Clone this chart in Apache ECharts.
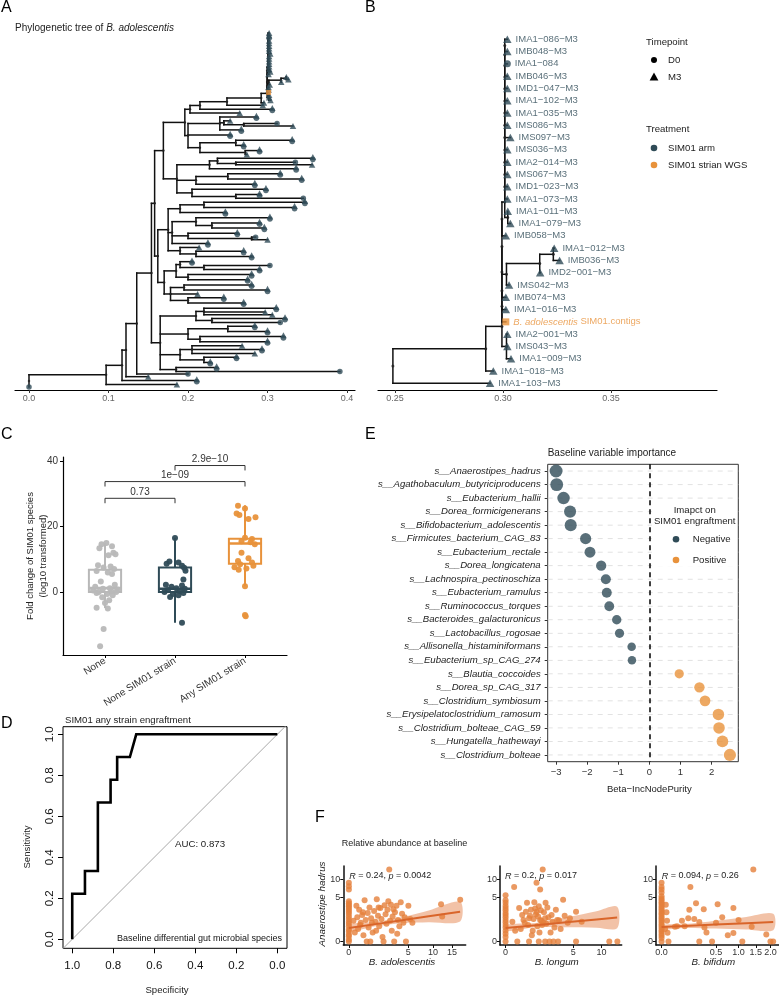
<!DOCTYPE html>
<html><head><meta charset="utf-8">
<script src="https://cdn.jsdelivr.net/npm/echarts@6/dist/echarts.min.js"></script>
<style>html,body{margin:0;padding:0;background:#fff}#c{width:779px;height:996px}</style>
</head><body><div id="c"></div>
<script>
const FONT = '"Liberation Sans", Arial, sans-serif';
const SLATE = '#2F4B57', ORANGE = '#E8923B', GREY = '#B8B8B8';
const F_ORANGE = '#E5803B', F_LINE = '#D9652A';

// ---------- Panel A/B: phylogenetic tree (node depth in substitutions/site) ----------
const N = (d, ...kids) => [d, kids];
const L = (d, type, name) => [d, type, name];   // type: c = D0 circle, t = M3 triangle, p = D0+M3 pair, o = SIM01 strain WGS
// ladder: (((a,b),c),d)... all internal nodes at depth d
const ladder = (d, ...items) => items.slice(1).reduce((acc, it) => [d, [acc, it]], items[0]);

const cladeB = N(0.249,
  N(0.292,
    ladder(0.2995,
      ladder(0.3008,
        L(0.3020,'t','IMA1-086-M3'), L(0.3020,'t','IMB048-M3'), L(0.3020,'c','IMA1-084'),
        L(0.3020,'t','IMB046-M3'), L(0.3020,'t','IMD1-047-M3'), L(0.3020,'t','IMA1-102-M3'),
        L(0.3020,'t','IMA1-035-M3'), L(0.3020,'t','IMS086-M3'), L(0.3034,'t','IMS097-M3'),
        L(0.3020,'t','IMS036-M3'), L(0.3020,'t','IMA2-014-M3'), L(0.3020,'t','IMS067-M3'),
        L(0.3020,'t','IMD1-023-M3'), L(0.3020,'t','IMA1-073-M3'),
        N(0.3022, L(0.3022,'t','IMA1-011-M3'), L(0.3034,'t','IMA1-079-M3'))
      ),
      L(0.3013,'t','IMB058-M3'),
      N(0.3016,
        N(0.3170,
          N(0.3233, L(0.3237,'t','IMA1-012-M3'), L(0.3262,'t','IMB036-M3')),
          L(0.3172,'t','IMD2-001-M3')
        ),
        L(0.3028,'t','IMS042-M3')
      ),
      L(0.3013,'t','IMB074-M3'),
      L(0.3013,'t','IMA1-016-M3'),
      L(0.3013,'o','B. adolescentis SIM01.contigs'),
      N(0.3016, L(0.3020,'t','IMA2-001-M3'), L(0.3020,'t','IMS043-M3'), L(0.3037,'t','IMA1-009-M3'))
    ),
    L(0.2955,'t','IMA1-018-M3')
  ),
  L(0.2940,'t','IMA1-103-M3')
);

const upperA = N(0.158,
  N(0.169,
    N(0.196,
      N(0.2025, N(0.215, cladeB, L(0.306,'p')), L(0.265,'t')),
      N(0.20,
        N(0.24, L(0.286,'p'), N(0.245, L(0.253,'t'), N(0.27, L(0.312,'c'), L(0.332,'t'))), L(0.267,'p')),
        L(0.253,'p'),
        N(0.215, N(0.26, L(0.331,'p'), L(0.27,'p')), N(0.272, L(0.29,'p'), L(0.274,'t')))
      )
    ),
    N(0.186,
      N(0.227, N(0.237, L(0.357,'p'), N(0.26, L(0.335,'c'), L(0.356,'t'))), L(0.336,'p')),
      N(0.21, N(0.25, L(0.316,'p'), L(0.343,'p')), L(0.284,'p')),
      N(0.205, L(0.298,'p'), N(0.26, L(0.29,'p'), L(0.345,'c')))
    )
  ),
  N(0.162,
    N(0.175,
      N(0.19, N(0.22, L(0.347,'p'), L(0.334,'p')), L(0.247,'p')),
      N(0.18,
        N(0.21, L(0.303,'p'), N(0.23, L(0.29,'p'), L(0.296,'p'))),
        N(0.2, L(0.262,'p'), N(0.28, L(0.285,'c'), L(0.30,'t'))),
        L(0.225,'p')
      ),
      N(0.19, L(0.214,'t'), N(0.21, L(0.27,'p'), L(0.28,'p')))
    ),
    N(0.17,
      N(0.185, N(0.19, L(0.205,'p'), N(0.22, L(0.303,'c'), L(0.29,'p'))), N(0.2, L(0.28,'p'), L(0.275,'p'))),
      N(0.178, N(0.195, L(0.28,'p'), L(0.3,'p')), L(0.212,'t'), N(0.2, L(0.245,'p'), L(0.27,'p')))
    )
  )
);

const lowerA = N(0.165,
  N(0.21, N(0.22, L(0.311,'p'), L(0.297,'t'), L(0.306,'t')), N(0.23, L(0.322,'p'), L(0.316,'c'))),
  N(0.2, N(0.25, L(0.284,'p'), L(0.30,'p')), N(0.215, L(0.32,'p'), L(0.30,'p'))),
  N(0.19, N(0.205, L(0.268,'t'), L(0.293,'p'), L(0.284,'t')), N(0.22, L(0.261,'p'), L(0.228,'p'))),
  N(0.185, L(0.236,'p'), L(0.391,'c'))
);

const treeA = N(0,
  N(0.097,
    N(0.117,
      N(0.122,
        N(0.1355, N(0.154, upperA, lowerA), L(0.200,'c')),
        L(0.150,'t')
      ),
      L(0.211,'p')
    ),
    L(0.186,'t')
  ),
  L(0,'c')
);
const aTicks = [0, 0.1, 0.2, 0.3, 0.4];
const bTicks = [0.25, 0.30, 0.35];

// ---------- Panel C ----------
const cCategories = ['None', 'None SIM01 strain', 'Any SIM01 strain'];
const cBoxLow  = [-4.9, -9.4, 1.8];
const cBoxQ1   = [0, 0, 8.6];
const cBoxMed  = [1.2, 1.0, 14.8];
const cBoxQ3   = [6.8, 7.5, 16.3];
const cBoxHigh = [15, 16.6, 26.5];
const cNone = [15, 14.6, 14, 13.4, 12, 11.5, 11.2, 8.2, 7.8, 7.5, 7.0, 6.4, 6.0, 5.5, 3.2, 2.2, 1.6, 1.2, 1.0, 0.8, 0.5, 0.2, 0, 0, -0.3, -0.6, -1.0, -1.6, -2.5, -3.3, -4.8, -5.0, -11.3, -16.5];
const cNoneJit = [0.02, -0.05, 0.1, -0.08, 0.12, 0.15, 0.05, -0.1, 0.08, -0.02, 0.13, -0.12, 0.04, 0.1, -0.06, 0.14, -0.14, 0.07, -0.03, 0.18, -0.17, 0.09, -0.09, 0.16, -0.12, 0.03, 0.11, -0.04, 0.06, 0.0, -0.12, 0.04, -0.02, -0.07];
const cNoneSim = [16.5, 9.3, 9.0, 8.6, 8.0, 7.4, 6.5, 3.8, 2.2, 2.0, 1.6, 1.2, 1.0, 0.6, 0.3, 0, -0.3, -0.6, -1.0, -1.5, -9.4];
const cNoneSimJit = [0, -0.08, 0.05, -0.12, 0.1, 0.13, 0.15, 0.12, -0.13, 0.1, -0.05, 0.02, 0.14, -0.1, 0.07, -0.15, 0.12, -0.03, 0.05, -0.07, 0.1];
const cAny = [26.3, 25.5, 24.0, 23.5, 22.8, 22.3, 16.6, 16.2, 15.5, 15.2, 14.6, 12.0, 10.3, 9.5, 9.0, 8.5, 8.0, 7.6, 7.2, 6.8, 1.8, -7.0, -7.4];
const cAnyJit = [-0.1, 0.0, -0.12, -0.08, 0.15, 0.05, 0.0, 0.1, -0.05, 0.08, 0.14, -0.05, 0.05, -0.1, 0.1, -0.07, 0.12, -0.15, 0.02, -0.09, 0.0, 0.0, 0.01];
const cBrLeft = [1, 1, 2], cBrRight = [2, 3, 3], cBrY = [28.6, 33.7, 38.6];
const cBrLabel = ['0.73', '1e\u221209', '2.9e\u221210'];

// ---------- Panel D ----------
const rocSpec = [1, 1, 0.938, 0.938, 0.875, 0.875, 0.813, 0.813, 0.781, 0.781, 0.719, 0.688, 0];
const rocSens = [0, 0.222, 0.222, 0.333, 0.333, 0.667, 0.667, 0.778, 0.778, 0.889, 0.889, 1, 1];
const dTicks = [0, 0.2, 0.4, 0.6, 0.8, 1.0];

// ---------- Panel E ----------
const eSpecies = ['s__Anaerostipes_hadrus','s__Agathobaculum_butyriciproducens','s__Eubacterium_hallii','s__Dorea_formicigenerans','s__Bifidobacterium_adolescentis','s__Firmicutes_bacterium_CAG_83','s__Eubacterium_rectale','s__Dorea_longicatena','s__Lachnospira_pectinoschiza','s__Eubacterium_ramulus','s__Ruminococcus_torques','s__Bacteroides_galacturonicus','s__Lactobacillus_rogosae','s__Allisonella_histaminiformans','s__Eubacterium_sp_CAG_274','s__Blautia_coccoides','s__Dorea_sp_CAG_317','s__Clostridium_symbiosum','s__Erysipelatoclostridium_ramosum','s__Clostridium_bolteae_CAG_59','s__Hungatella_hathewayi','s__Clostridium_bolteae'];
const eBeta = [-3.0, -2.98, -2.76, -2.55, -2.53, -2.05, -1.91, -1.55, -1.40, -1.37, -1.29, -1.05, -0.96, -0.57, -0.56, 0.96, 1.61, 1.79, 2.22, 2.24, 2.35, 2.59];
const eTicks = [-3, -2, -1, 0, 1, 2];

// ---------- Panel F (relative abundance, raw %) ----------
const f1Points = [[0,8.9],[0,7.9],[0,7.0],[0,4.2],[0,3.8],[0,3.5],[0,3.2],[0,2.9],[0,2.6],[0,2.3],[0,2.0],[0,1.6],[0,1.3],[0,1.0],[0,0.8],[0,0.6],[0,0.36],[0,0.26],[0,0.12],[0,0.07],[0,0.01],[0,0],
 [0.1,1.5],[0.12,0.4],[0.15,2.6],[0.2,0.9],[0.25,1.8],[0.3,0.1],[0.35,4.4],[0.4,1.2],[0.5,2.1],[0.55,0.5],[0.6,3.0],[0.7,1.4],[0.8,0.2],[0.9,2.4],[1.0,1.0],[1.1,4.6],[1.2,1.7],[1.3,0.6],[1.4,2.9],[1.5,1.3],[1.6,0.05],[1.8,3.4],[1.9,1.9],[2.0,0.8],[2.1,2.6],[2.3,13.4],[2.4,1.1],[2.5,3.5],[2.6,0.3],[2.7,1.6],[2.9,0],[3.0,2.2],[3.2,3.3],[3.4,1.2],[3.6,0.6],[3.8,4.0],[4.0,2.0],[4.2,0.9],[4.4,1.5],[4.6,0],[5.0,3.3],[5.3,1.3],[5.7,0.9],[12.0,3.6],[12.3,1.6],[17.5,4.5],[0.05,0.2],[0.08,3.3],[0.45,0],[1.7,0],[0.65,0],[2.2,4.2],[0.03,1.1],[0.18,0.7],[0.28,2.2],[0.75,0.9],[1.25,3.0],[1.05,0.3],[2.8,2.7],[3.3,0.15]];
const f2Points = [[0,5.5],[0,4.4],[0,3.9],[0,3.3],[0,2.9],[0,2.5],[0,2.1],[0,1.8],[0,1.5],[0,1.2],[0,0.95],[0,0.7],[0,0.5],[0,0.3],[0,0.15],[0,0.05],[0,0],
 [0.08,7.7],[1.04,8.9],[1.5,13.4],[1.3,7.0],[3.6,4.5],[2.75,2.6],[5.4,2.3],[13.6,0],[11.7,0],[5.4,0],[3.1,1.15],[1.74,3.9],[0.5,3.9],[0.7,2.6],[0.9,4.0],[1.2,3.2],[0.3,1.8],[0.4,0.9],[0.6,1.4],[0.8,0.3],[1.0,1.9],[1.1,0.6],[1.4,1.1],[1.6,2.2],[1.8,0.8],[2.0,1.5],[2.2,0.2],[2.4,1.0],[2.6,0.5],[3.0,0],[0.2,2.9],[0.25,0.4],[0.35,1.2],[0.45,2.3],[0.55,0.7],[0.65,1.7],[0.75,0.1],[0.85,1.3],[0.95,2.8],[1.15,1.6],[1.25,0.2],[1.35,2.5],[1.55,0.9],[1.7,1.4],[1.9,3.0],[2.1,0],[2.3,1.8],[2.9,1.2],[3.3,0.4],[3.8,1.7],[4.2,0.9],[0.15,0],[0.6,0],[1.2,0],[1.7,0],[2.5,0],[4.5,1.4],[6.3,1.0],[0.05,1.0],[0.1,0.3],[1.3,1.2],[1.45,0.7],[1.05,2.3]];
const f3Points = [[0,8.9],[0,7.7],[0,7.0],[0,6.2],[0,5.3],[0,4.8],[0,4.4],[0,4.0],[0,3.7],[0,3.3],[0,3.0],[0,2.7],[0,2.4],[0,2.1],[0,1.9],[0,1.6],[0,1.4],[0,1.2],[0,1.0],[0,0.8],[0,0.65],[0,0.5],[0,0.35],[0,0.25],[0,0.15],[0,0.08],[0,0.03],[0,0],
 [0.003,3.5],[0.004,2.2],[0.005,1.1],[0.002,0.4],[0.008,0.0],
 [1.42,13.4],[0.14,7.7],[0.2,3.8],[0.53,3.6],[0.87,2.9],[0.13,2.6],[0.3,2.7],[0.12,1.4],[0.24,0.98],[0.09,0.6],[0.006,0.19],[0.24,0],[0.43,0],[0.31,0.5],[0.34,0.2],[0.74,0.1],[0.87,0.18],[1.1,0],[1.0,1.2],[1.37,0.55],[1.85,0.12],[2.0,0],[2.1,0],[0.04,0.6],[0.03,0.55],[0.07,1.1],[0.18,1.3],[0.5,0.9],[0.62,1.5]];
// linear fit with 95% CI, read on the sqrt-transformed scale
const f1FitX = [0, 1, 2, 3, 4.18],   f1FitY = [0.68, 0.88, 1.08, 1.28, 1.516], f1FitHalf = [0.18, 0.11, 0.15, 0.3, 0.5];
const f2FitX = [0, 1, 2, 3, 3.68],   f2FitY = [0.68, 0.827, 0.974, 1.121, 1.221], f2FitHalf = [0.16, 0.11, 0.25, 0.42, 0.55];
const f3FitX = [0, 0.3, 0.7, 1.1, 1.45], f3FitY = [0.73, 0.784, 0.856, 0.928, 0.991], f3FitHalf = [0.11, 0.1, 0.2, 0.32, 0.42];
const fCorText = ['{i|R} = 0.24, {i|p} = 0.0042', '{i|R} = 0.2, {i|p} = 0.017', '{i|R} = 0.094, {i|p} = 0.26'];
const fXTitles = ['B. adolescentis', 'B. longum', 'B. bifidum'];

// ================= build =================
function layoutTree(tree) {
  const segs = [], nodes = [], tips = [];
  let idx = 0;
  function walk(n) {
    if (typeof n[1] === 'string') {
      if (n[1] === 'p') {
        const y0 = idx;
        tips.push({x: n[0], y: idx++, t: 't'});
        tips.push({x: n[0], y: idx++, t: 'c'});
        return y0 + 0.5;
      }
      tips.push({x: n[0], y: idx++, t: n[1], name: n[2]});
      return idx - 1;
    }
    const ys = n[1].map(ch => { const cy = walk(ch); segs.push([n[0], cy, ch[0], cy]); return cy; });
    const lo = Math.min(...ys), hi = Math.max(...ys);
    segs.push([n[0], lo, n[0], hi]);
    const y = (lo + hi) / 2;
    nodes.push([n[0], y]);
    return y;
  }
  walk(tree);
  return {segs, nodes, tips, n: idx};
}
const layA = layoutTree(treeA);
const layB = layoutTree(cladeB);
const yMaxA = (layA.n - 1) * 357 / 354;
const yMaxB = (layB.n - 1) * 350.7 / 344;
const tipData = (lay, t) => lay.tips.filter(d => d.t === t).map(d => ({value: [d.x, d.y], name: d.name || ''}));

function segRender(color, w) {
  return (params, api) => {
    const a = api.coord([api.value(0), api.value(1)]);
    const b = api.coord([api.value(2), api.value(3)]);
    return {type: 'line', shape: {x1: a[0], y1: a[1], x2: b[0], y2: b[1]}, style: {stroke: color, lineWidth: w, lineCap: 'square'}};
  };
}
const txt = (size, color) => ({fontSize: size, color: color || '#333', fontFamily: FONT});
const noSplit = {show: false};

const grids = [
  {left: 15, top: 33, width: 340, height: 357},
  {left: 378, top: 39.3, width: 339, height: 350.7},
  {left: 63, top: 457, width: 224, height: 198},
  {left: 63, top: 726.7, width: 224, height: 221.6, show: true, borderColor: '#000', borderWidth: 1, backgroundColor: 'transparent'},
  {left: 547.7, top: 464.3, width: 190.6, height: 297.4, show: true, borderColor: '#333', borderWidth: 1, backgroundColor: 'transparent'},
  {left: 343.3, top: 866, width: 122.4, height: 79},
  {left: 500, top: 866, width: 121.7, height: 79},
  {left: 656, top: 866, width: 122.6, height: 79}
].map(g => Object.assign({containLabel: false, outerBoundsMode: 'none'}, g));

const sq = a => a.map(Math.sqrt);
function fAxes(i, xmin, xmax, xticks, xfmt) {
  return {
    x: {gridIndex: i, type: 'value', min: xmin, max: xmax,
        axisLine: {show: true, onZero: false, lineStyle: {color: '#111', width: 1.5}},
        axisTick: {show: true, length: 3, customValues: sq(xticks), lineStyle: {color: '#111'}},
        axisLabel: Object.assign({customValues: sq(xticks), formatter: xfmt, margin: 3}, txt(9, '#333')),
        splitLine: noSplit},
    y: {gridIndex: i, type: 'value', min: -0.183, max: 3.84,
        axisLine: {show: true, onZero: false, lineStyle: {color: '#111', width: 1.5}},
        axisTick: {show: true, length: 3, customValues: sq([0, 5, 10]), lineStyle: {color: '#111'}},
        axisLabel: Object.assign({customValues: sq([0, 5, 10]), formatter: v => String(Math.round(v * v)), margin: 3}, txt(9, '#333')),
        splitLine: noSplit}
  };
}
const intFmt = v => String(Math.round(v * v));
const fA1 = fAxes(5, -0.209, 4.39, [0, 5, 10, 15], intFmt);
const fA2 = fAxes(6, -0.184, 3.83, [0, 5, 10, 15], intFmt);
const fA3 = fAxes(7, -0.0725, 1.52, [0, 0.5, 1, 1.5, 2], v => (v * v).toFixed(1));

const xAxes = [
  {gridIndex: 0, type: 'value', min: -0.0176, max: 0.41,
   axisLine: {show: true, onZero: false, lineStyle: {color: '#000', width: 1.2}},
   axisTick: {show: true, length: 3, customValues: aTicks, lineStyle: {color: '#333'}},
   axisLabel: Object.assign({customValues: aTicks, formatter: v => v.toFixed(1), margin: 4}, txt(9, '#666')), splitLine: noSplit},
  {gridIndex: 1, type: 'value', min: 0.2421, max: 0.3991,
   axisLine: {show: true, onZero: false, lineStyle: {color: '#000', width: 1.2}},
   axisTick: {show: true, length: 3, customValues: bTicks, lineStyle: {color: '#333'}},
   axisLabel: Object.assign({customValues: bTicks, formatter: v => v.toFixed(2), margin: 4}, txt(9, '#666')), splitLine: noSplit},
  {gridIndex: 2, type: 'value', min: 0.4, max: 3.6,
   axisLine: {show: true, onZero: false, lineStyle: {color: '#000', width: 1.2}},
   axisTick: {show: true, length: 3, customValues: [1, 2, 3], lineStyle: {color: '#000'}},
   axisLabel: Object.assign({customValues: [1, 2, 3], formatter: v => cCategories[Math.round(v) - 1], rotate: 32, margin: 5}, txt(10, '#333')), splitLine: noSplit},
  {gridIndex: 3, type: 'value', inverse: true, min: -0.047, max: 1.045,
   axisLine: {show: false, onZero: false},
   axisTick: {show: true, length: 5, customValues: dTicks, lineStyle: {color: '#000'}},
   axisLabel: Object.assign({customValues: dTicks, formatter: v => v.toFixed(1), margin: 12}, txt(11.5, '#111')), splitLine: noSplit},
  {gridIndex: 4, type: 'value', min: -3.27, max: 2.86,
   axisLine: {show: false, onZero: false},
   axisTick: {show: true, length: 3, customValues: eTicks, lineStyle: {color: '#333'}},
   axisLabel: Object.assign({customValues: eTicks, formatter: v => (v < 0 ? '\u2212' : '') + Math.abs(v), margin: 6}, txt(9.5, '#333')), splitLine: noSplit},
  fA1.x, fA2.x, fA3.x
];
const yAxes = [
  {gridIndex: 0, type: 'value', inverse: true, min: 0, max: yMaxA, show: false},
  {gridIndex: 1, type: 'value', inverse: true, min: 0, max: yMaxB, show: false},
  {gridIndex: 2, type: 'value', min: -19.2, max: 41.2,
   axisLine: {show: true, onZero: false, lineStyle: {color: '#000', width: 1.2}},
   axisTick: {show: true, length: 3, customValues: [0, 20, 40], lineStyle: {color: '#000'}},
   axisLabel: Object.assign({customValues: [0, 20, 40], margin: 5}, txt(10, '#333')), splitLine: noSplit},
  {gridIndex: 3, type: 'value', min: -0.044, max: 1.037,
   axisLine: {show: false, onZero: false},
   axisTick: {show: true, length: 5, customValues: dTicks, lineStyle: {color: '#000'}},
   axisLabel: Object.assign({customValues: dTicks, formatter: v => v.toFixed(1), rotate: 90, margin: 7}, txt(11.5, '#111')), splitLine: noSplit},
  {gridIndex: 4, type: 'category', data: eSpecies, inverse: true,
   axisLine: {show: false, onZero: false},
   axisTick: {show: true, alignWithLabel: true, length: 3, lineStyle: {color: '#333'}},
   axisLabel: Object.assign({margin: 7, fontStyle: 'italic', interval: 0}, txt(9.6, '#222')), splitLine: noSplit},
  fA1.y, fA2.y, fA3.y
];

const series = [];
// ---- A
series.push({type: 'custom', xAxisIndex: 0, yAxisIndex: 0, renderItem: segRender('#111', 1.5), data: layA.segs, encode: {x: [0, 2], y: [1, 3]}, silent: true, z: 2});
series.push({type: 'scatter', xAxisIndex: 0, yAxisIndex: 0, symbolSize: 2.5, itemStyle: {color: '#222'}, data: layA.nodes, silent: true, z: 3, clip: false});
series.push({type: 'scatter', xAxisIndex: 0, yAxisIndex: 0, symbol: 'triangle', symbolSize: [6.5, 6], itemStyle: {color: SLATE}, data: tipData(layA, 't'), z: 4, clip: false});
series.push({type: 'scatter', xAxisIndex: 0, yAxisIndex: 0, symbol: 'circle', symbolSize: 5.5, itemStyle: {color: SLATE}, data: tipData(layA, 'c'), z: 4, clip: false});
series.push({type: 'scatter', xAxisIndex: 0, yAxisIndex: 0, symbol: 'rect', symbolSize: 5, itemStyle: {color: ORANGE}, data: tipData(layA, 'o'), z: 5, clip: false});
// ---- B
const bLabel = {show: true, position: 'right', distance: 4, formatter: p => p.name.replace(/-/g, '\u2212'), color: SLATE, fontSize: 9.5, fontFamily: FONT};
series.push({type: 'custom', xAxisIndex: 1, yAxisIndex: 1, renderItem: segRender('#111', 1.5), data: layB.segs, encode: {x: [0, 2], y: [1, 3]}, silent: true, z: 2});
series.push({type: 'scatter', xAxisIndex: 1, yAxisIndex: 1, symbolSize: 3, itemStyle: {color: '#222'}, data: layB.nodes, silent: true, z: 3, clip: false});
series.push({type: 'scatter', xAxisIndex: 1, yAxisIndex: 1, symbol: 'triangle', symbolSize: [8.5, 7.5], itemStyle: {color: SLATE}, data: tipData(layB, 't'), label: bLabel, z: 4, clip: false});
series.push({type: 'scatter', xAxisIndex: 1, yAxisIndex: 1, symbol: 'circle', symbolSize: 7, itemStyle: {color: SLATE}, data: tipData(layB, 'c'), label: bLabel, z: 4, clip: false});
series.push({type: 'scatter', xAxisIndex: 1, yAxisIndex: 1, symbol: 'rect', symbolSize: 7, itemStyle: {color: ORANGE}, data: tipData(layB, 'o'),
  label: {show: true, position: 'right', distance: 4, fontSize: 9.5, fontFamily: FONT, color: ORANGE,
    formatter: p => '{i|' + p.name.split(' SIM01')[0] + '} SIM01' + p.name.split(' SIM01')[1],
    rich: {i: {fontStyle: 'italic', fontSize: 9.5, fontFamily: FONT, color: ORANGE}}}, z: 5, clip: false});
// ---- C
const cBoxColors = [GREY, SLATE, ORANGE];
series.push({type: 'custom', xAxisIndex: 2, yAxisIndex: 2, z: 2, silent: true,
  data: cCategories.map((c, i) => [i + 1, cBoxLow[i], cBoxQ1[i], cBoxMed[i], cBoxQ3[i], cBoxHigh[i]]),
  encode: {x: 0, y: [1, 2, 3, 4, 5]},
  renderItem: (params, api) => {
    const i = params.dataIndex, x = api.value(0), hw = 0.23, col = cBoxColors[i];
    const pt = v => api.coord([x, v]);
    const lo = pt(api.value(1)), q1 = pt(api.value(2)), md = pt(api.value(3)), q3 = pt(api.value(4)), hi = pt(api.value(5));
    const l = api.coord([x - hw, 0])[0], r = api.coord([x + hw, 0])[0];
    return {type: 'group', children: [
      {type: 'line', shape: {x1: q3[0], y1: q3[1], x2: hi[0], y2: hi[1]}, style: {stroke: col, lineWidth: 2}},
      {type: 'line', shape: {x1: q1[0], y1: q1[1], x2: lo[0], y2: lo[1]}, style: {stroke: col, lineWidth: 2}},
      {type: 'rect', shape: {x: l, y: q3[1], width: r - l, height: q1[1] - q3[1]}, style: {stroke: col, lineWidth: 2, fill: '#fff'}},
      {type: 'line', shape: {x1: l, y1: md[1], x2: r, y2: md[1]}, style: {stroke: col, lineWidth: 2.6}}
    ]};
  }});
[[cNone, cNoneJit, GREY, 1], [cNoneSim, cNoneSimJit, SLATE, 2], [cAny, cAnyJit, ORANGE, 3]].forEach(([v, j, col, k]) => {
  series.push({type: 'scatter', xAxisIndex: 2, yAxisIndex: 2, symbolSize: 6, itemStyle: {color: col, opacity: 0.95}, z: 4,
    data: v.map((val, i) => [k + j[i], val])});
});
series.push({type: 'custom', xAxisIndex: 2, yAxisIndex: 2, z: 5, silent: true,
  data: cBrY.map((y, i) => [cBrLeft[i], cBrRight[i], y]), encode: {x: [0, 1], y: 2},
  renderItem: (params, api) => {
    const x1 = api.value(0), x2 = api.value(1), y = api.value(2);
    const a = api.coord([x1, y - 1.5]), b = api.coord([x1, y]), c = api.coord([x2, y]), d = api.coord([x2, y - 1.5]);
    return {type: 'group', children: [
      {type: 'polyline', shape: {points: [a, b, c, d]}, style: {stroke: '#333', lineWidth: 1, fill: null}},
      {type: 'text', x: (b[0] + c[0]) / 2, y: b[1] - 1, style: {text: cBrLabel[params.dataIndex], fontSize: 10, fontFamily: FONT, fill: '#333', align: 'center', verticalAlign: 'bottom', textAlign: 'center', textVerticalAlign: 'bottom'}}
    ]};
  }});
// ---- D
series.push({type: 'line', xAxisIndex: 3, yAxisIndex: 3, symbol: 'none', silent: true, clip: true, z: 2,
  lineStyle: {color: '#A8A8A8', width: 1},
  data: [[1.045, 1 - 1.045], [-0.047, 1 + 0.047]]});
series.push({type: 'line', xAxisIndex: 3, yAxisIndex: 3, symbol: 'none', silent: true, z: 3,
  lineStyle: {color: '#000', width: 2.6, join: 'miter'},
  data: rocSpec.map((s, i) => [s, rocSens[i]])});
// ---- E
series.push({type: 'custom', xAxisIndex: 4, yAxisIndex: 4, silent: true, z: 1,
  data: eSpecies.map((s, i) => [-3.27, i]), encode: {x: 0, y: 1},
  renderItem: (params, api) => {
    const a = api.coord([-3.27, api.value(1)]), b = api.coord([2.86, api.value(1)]);
    return {type: 'line', shape: {x1: a[0], y1: a[1], x2: b[0], y2: b[1]}, style: {stroke: '#DADADA', lineWidth: 0.8, lineDash: [5, 5]}};
  }});
series.push({type: 'scatter', xAxisIndex: 4, yAxisIndex: 4, z: 4,
  symbolSize: v => 7.5 + 1.8 * Math.abs(v[0]),
  itemStyle: {color: p => (p.value[0] < 0 ? SLATE : ORANGE)},
  data: eBeta.map((v, i) => [v, i]),
  markLine: {silent: true, symbol: ['none', 'none'], label: {show: false}, animation: false,
    lineStyle: {color: '#000', type: [5, 4], width: 1.5}, data: [{xAxis: 0}]}});
// ---- F
[[f1Points, f1FitX, f1FitY, f1FitHalf, 5], [f2Points, f2FitX, f2FitY, f2FitHalf, 6], [f3Points, f3FitX, f3FitY, f3FitHalf, 7]].forEach(([pts, fx, fy, fh, ai]) => {
  series.push({type: 'custom', xAxisIndex: ai, yAxisIndex: ai, silent: true, z: 2, data: [[fx[0], fy[0]]], encode: {x: 0, y: 1},
    renderItem: (params, api) => {
      const up = fx.map((x, i) => api.coord([x, fy[i] + fh[i]]));
      const dn = fx.map((x, i) => api.coord([x, fy[i] - fh[i]])).reverse();
      return {type: 'polygon', shape: {points: up.concat(dn), smooth: 0.3}, style: {fill: 'rgba(226,120,60,0.45)', stroke: null}};
    }});
  series.push({type: 'scatter', xAxisIndex: ai, yAxisIndex: ai, symbolSize: 6, itemStyle: {color: F_ORANGE}, z: 3, clip: false,
    data: pts.map(p => [Math.sqrt(p[0]), Math.sqrt(p[1])])});
  series.push({type: 'line', xAxisIndex: ai, yAxisIndex: ai, symbol: 'none', silent: true, z: 4,
    lineStyle: {color: F_LINE, width: 2}, data: fx.map((x, i) => [x, fy[i]])});
});

// ---- text & legends
function T(x, y, text, o) {
  o = o || {};
  const size = o.size || 10, col = o.color || '#222';
  const st = {text, fill: col, fontSize: size, fontFamily: FONT, fontStyle: o.italic ? 'italic' : 'normal',
    align: o.align || 'left', verticalAlign: 'middle', textAlign: o.align || 'left', textVerticalAlign: 'middle'};
  if (o.rich) st.rich = {i: {fontStyle: 'italic', fontSize: size, fontFamily: FONT, fill: col, color: col}};
  return {type: 'text', x, y, rotation: o.rot || 0, style: st, z: 100, silent: true};
}
const tri = (x, y, s, col) => ({type: 'polygon', shape: {points: [[x, y - s * 0.55], [x + s * 0.55, y + s * 0.45], [x - s * 0.55, y + s * 0.45]]}, style: {fill: col}, z: 100, silent: true});
const dot = (x, y, r, col) => ({type: 'circle', shape: {cx: x, cy: y, r}, style: {fill: col}, z: 100, silent: true});

const graphic = [
  T(1, 8, 'A', {size: 16, color: '#000'}), T(365, 8, 'B', {size: 16, color: '#000'}),
  T(1, 435, 'C', {size: 16, color: '#000'}), T(365, 435, 'E', {size: 16, color: '#000'}),
  T(1, 723.5, 'D', {size: 16, color: '#000'}), T(315, 818, 'F', {size: 16, color: '#000'}),
  T(15, 28.7, 'Phylogenetic tree of {i|B. adolescentis}', {size: 10, rich: true, color: '#222'}),
  // B legend
  T(646, 42, 'Timepoint', {size: 9.6}), dot(654, 60, 3, '#000'), T(668, 60, 'D0', {size: 9.6}),
  tri(654, 77, 8, '#000'), T(668, 77, 'M3', {size: 9.6}),
  T(646, 129, 'Treatment', {size: 9.6}), dot(654, 148, 3.3, SLATE), T(668, 148, 'SIM01 arm', {size: 9.6}),
  dot(654, 165, 3.3, ORANGE), T(668, 165, 'SIM01 strian WGS', {size: 9.6}),
  // C
  T(30, 556, 'Fold change of SIM01 species', {size: 9.5, rot: Math.PI / 2, align: 'center'}),
  T(43, 556, '(log10 transformed)', {size: 9.5, rot: Math.PI / 2, align: 'center'}),
  // D
  T(65, 720, 'SIM01 any strain engraftment', {size: 9.6}),
  T(27, 847, 'Sensitivity', {size: 9.6, rot: Math.PI / 2, align: 'center'}),
  T(167, 990, 'Specificity', {size: 9.6, align: 'center'}),
  T(200, 844, 'AUC: 0.873', {size: 9.7, align: 'center'}),
  T(282, 938.5, 'Baseline differential gut microbial species', {size: 9, align: 'right', color: '#111'}),
  // E
  T(547.7, 453.3, 'Baseline variable importance', {size: 10}),
  {type: 'rect', shape: {x: 652, y: 503, width: 84, height: 63}, style: {fill: '#fff'}, z: 50, silent: true},
  T(694.7, 510, 'Imapct on', {size: 9.6, align: 'center'}),
  T(694.7, 521.7, 'SIM01 engraftment', {size: 9.6, align: 'center'}),
  dot(676, 539.3, 3.3, SLATE), T(692.7, 539.3, 'Negative', {size: 9.6}),
  dot(676, 560, 3.3, ORANGE), T(692.7, 560, 'Positive', {size: 9.6}),
  T(649.3, 789, 'Beta\u2212IncNodePurity', {size: 9.5, align: 'center'}),
  // F
  T(341.7, 843.3, 'Relative abundance at baseline', {size: 9}),
  T(322.7, 904, 'Anaerostipe hadrus', {size: 9.8, italic: true, rot: Math.PI / 2, align: 'center'}),
  T(402, 962.3, fXTitles[0], {size: 9.8, italic: true, align: 'center'}),
  T(556.7, 962.3, fXTitles[1], {size: 9.8, italic: true, align: 'center'}),
  T(713.3, 962.3, fXTitles[2], {size: 9.8, italic: true, align: 'center'}),
  T(349.3, 876, fCorText[0], {size: 9, rich: true}),
  T(505, 876, fCorText[1], {size: 9, rich: true}),
  T(661.7, 876, fCorText[2], {size: 9, rich: true})
];

const chart = echarts.init(document.getElementById('c'), null, {renderer: 'canvas', width: 779, height: 996});
chart.setOption({
  backgroundColor: '#fff', animation: false, textStyle: {fontFamily: FONT},
  grid: grids, xAxis: xAxes, yAxis: yAxes, series, graphic
});
</script></body></html>
